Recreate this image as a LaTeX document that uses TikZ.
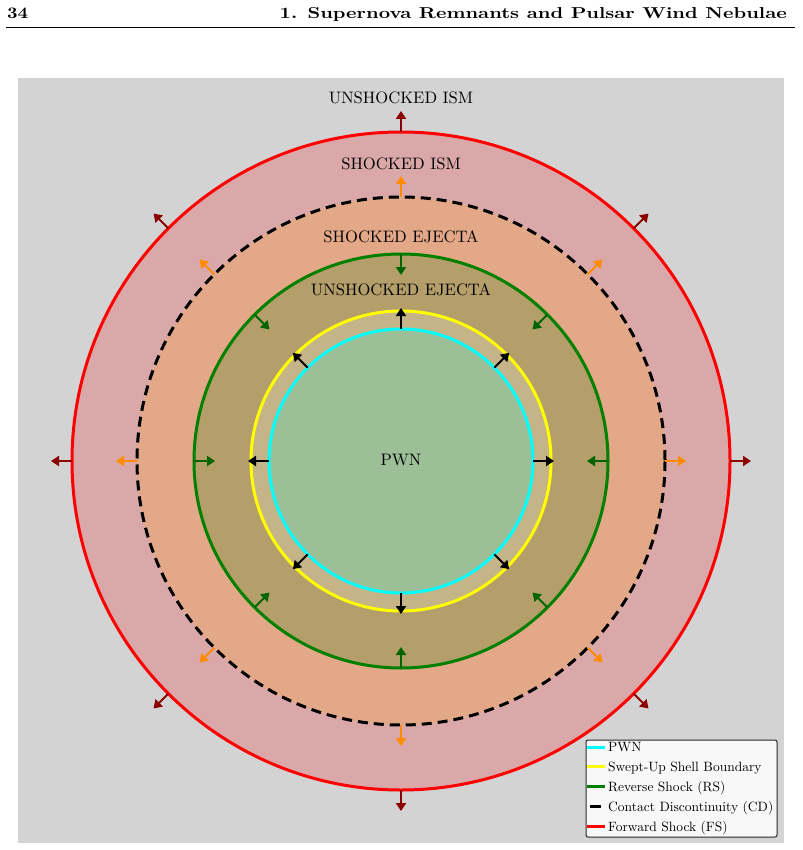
\documentclass[tikz,border=0pt]{standalone}
\usepackage{graphicx}
\usetikzlibrary{arrows.meta}
\definecolor{bggray}{RGB}{211,211,211}
\definecolor{ismfill}{RGB}{219,168,169}
\definecolor{ejfill}{RGB}{227,168,135}
\definecolor{unejfill}{RGB}{180,158,106}
\definecolor{shellfill}{RGB}{196,180,135}
\definecolor{pwnfill}{RGB}{156,191,152}
\definecolor{fsarrow}{RGB}{139,0,0}
\definecolor{cdarrow}{RGB}{255,140,0}
\definecolor{rsarrow}{RGB}{0,100,0}
\definecolor{rsline}{RGB}{0,128,0}
\definecolor{pwnline}{RGB}{0,255,255}
\definecolor{shellline}{RGB}{255,255,0}
\definecolor{fsline}{RGB}{255,0,0}
\definecolor{legfill}{RGB}{248,248,248}
\definecolor{legdraw}{RGB}{40,40,40}
\newcommand{\biglbl}[1]{\scalebox{1.66}{\fontsize{10}{12}\selectfont #1}}
\newcommand{\leglbl}[1]{\scalebox{1.35}{\fontsize{10}{12}\selectfont #1}}
\begin{document}
\begin{tikzpicture}[x=1pt,y=-1pt,
  arr/.style={line width=2pt,-{Triangle[length=8pt,width=10pt]}},
  ring/.style={line width=3pt},
  lbl/.style={inner sep=0pt},
  legtxt/.style={anchor=base west, inner sep=0pt},
  legline/.style={line width=3pt}]
\useasboundingbox (0,0) rectangle (802,850);
\fill[white] (0,0) rectangle (802,850);
% page header
\node[anchor=base west, inner sep=0pt] (pagenum) at (7,18.5)
  {\resizebox{21pt}{10.5pt}{\bfseries 34}};
\node[anchor=base east, inner sep=0pt] (pagehead) at (787,18.5)
  {\resizebox{507pt}{11pt}{\bfseries 1. Supernova Remnants and Pulsar Wind Nebulae}};
\draw[line width=0.8pt] (6,27) -- (795,27);
% background
\fill[bggray] (18,78) rectangle (784,843);
\coordinate (c) at (401,461);
% fills
\fill[ismfill] (c) circle[radius=329];
\fill[ejfill] (c) circle[radius=264];
\fill[unejfill] (c) circle[radius=207];
\fill[shellfill] (c) circle[radius=150];
\fill[pwnfill] (c) circle[radius=132];
% boundaries
\draw[ring, fsline] (c) circle[radius=329];
\draw[ring, black, dash pattern=on 10pt off 6pt] (c) circle[radius=264];
\draw[ring, rsline] (c) circle[radius=207];
\draw[ring, shellline] (c) circle[radius=150];
\draw[ring, pwnline] (c) circle[radius=132];
% arrows
\foreach \a in {0,45,...,315} {
  \path (c) ++(\a:329) coordinate (fsA\a);
  \path (c) ++(\a:350) coordinate (fsB\a);
  \draw[arr, fsarrow] (fsA\a) -- (fsB\a);
  \path (c) ++(\a:264) coordinate (cdA\a);
  \path (c) ++(\a:285) coordinate (cdB\a);
  \draw[arr, cdarrow] (cdA\a) -- (cdB\a);
  \path (c) ++(\a:207) coordinate (rsA\a);
  \path (c) ++(\a:186) coordinate (rsB\a);
  \draw[arr, rsarrow] (rsA\a) -- (rsB\a);
  \path (c) ++(\a:132) coordinate (pwA\a);
  \path (c) ++(\a:153) coordinate (pwB\a);
  \draw[arr, black] (pwA\a) -- (pwB\a);
}
% labels
\node[lbl] (l1) at (401,98) {\biglbl{UNSHOCKED ISM}};
\node[lbl] (l2) at (401,164) {\biglbl{SHOCKED ISM}};
\node[lbl] (l3) at (401,237) {\biglbl{SHOCKED EJECTA}};
\node[lbl] (l4) at (401,290) {\biglbl{UNSHOCKED EJECTA}};
\node[lbl] (l5) at (401,460) {\biglbl{PWN}};
% legend
\draw[legdraw, fill=legfill, line width=1pt, rounded corners=2pt] (586,740) rectangle (777,837);
\draw[legline, pwnline] (587,747) -- (605,747);
\node[legtxt] (g1) at (608,751.5) {\leglbl{PWN}};
\draw[legline, shellline] (587,766.5) -- (605,766.5);
\node[legtxt] (g2) at (608,771) {\leglbl{Swept-Up Shell Boundary}};
\draw[legline, rsline] (587,786.5) -- (605,786.5);
\node[legtxt] (g3) at (608,791) {\leglbl{Reverse Shock (RS)}};
\draw[legline, black] (590,806.5) -- (601,806.5);
\node[legtxt] (g4) at (608,811) {\leglbl{Contact Discontinuity (CD)}};
\draw[legline, fsline] (587,826.5) -- (605,826.5);
\node[legtxt] (g5) at (608,831) {\leglbl{Forward Shock (FS)}};
\end{tikzpicture}
\end{document}
